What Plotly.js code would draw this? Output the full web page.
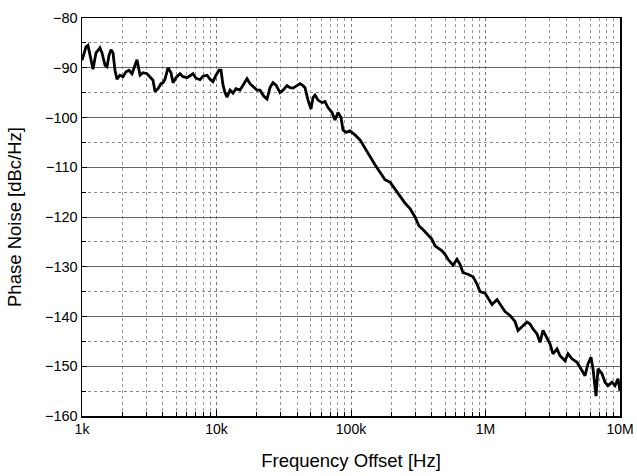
<!DOCTYPE html>
<html>
<head>
<meta charset="utf-8">
<script src="https://cdn.plot.ly/plotly-3.0.1.min.js"></script>
<style>html,body{margin:0;padding:0;background:#fff}#chart{width:637px;height:476px}</style>
</head>
<body>
<div id="chart"></div>
<script>
const freqHz = [1000,1035,1071,1108,1147,1207,1271,1315,1361,1408,1483,1534,1588,1643,1700,1759,1820,1916,2018,2124,2236,2353,2478,2564,2700,2842,3043,3203,3372,3490,3674,3867,4002,4141,4360,4589,4750,5000,5354,5636,6035,6353,6687,7040,7541,7937,8501,8948,9419,9915,10430,10800,11180,11570,11970,12600,13270,13960,14950,15740,16860,17750,18680,20000,21060,22560,23750,25000,26310,27700,29660,31220,33440,35200,37060,39680,41770,43970,45500,47900,50420,52180,54000,56850,60870,64080,67450,72230,76030,80040,84280,87200,91800,98310,107100,116700,122800,131500,138500,150800,164300,178900,195000,212400,231400,252000,274600,299200,320300,343000,373700,400200,421200,443600,475000,500000,526300,573400,614100,646400,680400,741300,807500,864800,910400,991500,1043000,1118000,1218000,1282000,1396000,1521000,1657000,1744000,1868000,2035000,2142000,2255000,2416000,2543000,2677000,2866000,3017000,3176000,3402000,3581000,3901000,4106000,4397000,4790000,5218000,5494000,5783000,6087000,6300000,6632000,6862000,7349000,7736000,8143000,8720000,9181000,9663000,10000000];
const phaseNoise = [-88.5,-87,-85.8,-85.5,-87.5,-90.3,-87,-86.5,-86,-87,-89.5,-89.8,-87.5,-86.4,-87,-90.5,-92.3,-91.5,-91.8,-90.8,-90.5,-91.2,-89.3,-88.4,-91.5,-91,-91.2,-91.8,-92.5,-94.8,-94.2,-93.2,-93,-92.3,-90,-91,-93,-92,-91.2,-91.8,-92,-91.6,-91.2,-92.1,-92.4,-91.7,-91.5,-92.3,-92.8,-91.5,-90.5,-90.5,-93.5,-95,-95.9,-94.5,-95.1,-94.2,-94.5,-93.5,-92.2,-93.2,-93.8,-94.5,-94.5,-95.8,-96.3,-94,-93,-93.5,-95,-94.5,-93.6,-94,-94.1,-93.5,-93.2,-93.6,-94,-96.5,-98.3,-96,-95.5,-96.5,-97,-96.8,-98,-99,-100.5,-99,-100,-102.5,-103,-102.7,-103.5,-104.5,-105.5,-107,-108,-109.5,-111,-112.5,-113,-114.5,-115.8,-117.2,-118.3,-120,-121.8,-122.5,-123.5,-124.5,-125.8,-126.2,-126.8,-127.5,-128.5,-129.7,-128.5,-129.5,-131.2,-131.5,-132,-133.5,-135,-135.3,-136.2,-137.6,-136.6,-137.6,-139,-139.8,-141,-142.8,-142.1,-141.1,-141.5,-142.5,-143.5,-145.2,-142.8,-144.5,-145.5,-147.5,-146.5,-147.9,-148.9,-147.5,-148.5,-149.2,-150.9,-151.9,-149.5,-148.2,-150.5,-156,-150.5,-151.5,-153.2,-153.9,-153.2,-153.9,-152.5,-155];
const xTickVals = [1e3,1e4,1e5,1e6,1e7];
const xTickText = ['1k','10k','100k','1M','10M'];
const xMinorVals = [2e3,3e3,4e3,5e3,6e3,7e3,8e3,9e3,2e4,3e4,4e4,5e4,6e4,7e4,8e4,9e4,2e5,3e5,4e5,5e5,6e5,7e5,8e5,9e5,2e6,3e6,4e6,5e6,6e6,7e6,8e6,9e6];
const yTickVals = [-160,-150,-140,-130,-120,-110,-100,-90,-80];

const font = {family:'"Liberation Sans", Arial, sans-serif', color:'#000'};
Plotly.newPlot('chart', [{
  x: freqHz, y: phaseNoise, type:'scatter', mode:'lines',
  line:{color:'#000', width:2.8}, hoverinfo:'skip'
}], {
  width:637, height:476,
  margin:{l:82, r:17, t:18, b:60},
  paper_bgcolor:'#fff', plot_bgcolor:'#fff',
  showlegend:false,
  font: Object.assign({size:14}, font),
  xaxis:{
    type:'log', range:[3,7],
    tickmode:'array', tickvals:xTickVals, ticktext:xTickText,
    ticks:'inside', ticklen:6, tickcolor:'#000',
    showgrid:true, gridcolor:'#777', griddash:'dot', gridwidth:1,
    minor:{tickmode:'array', tickvals:xMinorVals, ticks:'inside', ticklen:4, tickcolor:'#000',
           showgrid:true, gridcolor:'#999', griddash:'dot', gridwidth:1},
    showline:true, linecolor:'#000', linewidth:1.5, mirror:true,
    zeroline:false, automargin:false,
    tickfont:Object.assign({size:14}, font),
    title:{text:'Frequency Offset [Hz]', font:Object.assign({size:18.5}, font), standoff:18}
  },
  yaxis:{
    range:[-160,-80],
    tickmode:'array', tickvals:yTickVals,
    ticks:'inside', ticklen:5, tickcolor:'#000',
    showgrid:true, gridcolor:'#666', gridwidth:1,
    minor:{dtick:5, tick0:-80, ticks:'inside', ticklen:4, tickcolor:'#000',
           showgrid:true, gridcolor:'#888', griddash:'dot', gridwidth:1},
    showline:true, linecolor:'#000', linewidth:1.5, mirror:true,
    zeroline:false, automargin:false,
    tickfont:Object.assign({size:14.5}, font),
    title:{text:'Phase Noise [dBc/Hz]', font:Object.assign({size:18.5}, font), standoff:18}
  }
}, {staticPlot:true, displayModeBar:false});
</script>
</body>
</html>
